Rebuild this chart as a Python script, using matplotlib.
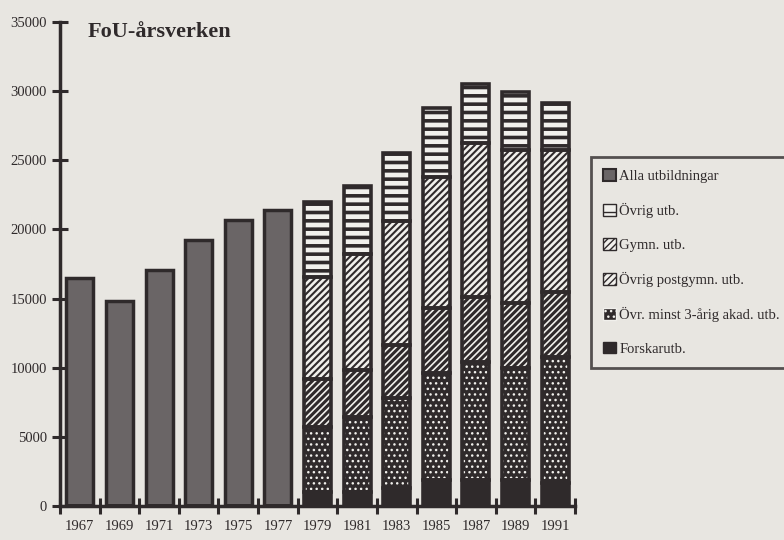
import matplotlib
matplotlib.use("Agg")
import matplotlib.pyplot as plt
import numpy as np
from matplotlib.patches import Patch

years = ["1967", "1969", "1971", "1973", "1975", "1977", "1979",
         "1981", "1983", "1985", "1987", "1989", "1991"]

# totals for the early years (no breakdown)
alla_utb = [16500, 14800, 17100, 19200, 20700, 21400, 0, 0, 0, 0, 0, 0, 0]

# breakdown from 1979 onwards
forskarutb = [0, 0, 0, 0, 0, 0, 1000, 1030, 1280, 1880, 1880, 1880, 1640]
ovr_akad = [0, 0, 0, 0, 0, 0, 4700, 5430, 6510, 7710, 8550, 8080, 9160]
ovr_postgymn = [0, 0, 0, 0, 0, 0, 3500, 3370, 3850, 4700, 4700, 4690, 4700]
gymn_utb = [0, 0, 0, 0, 0, 0, 7350, 8370, 8990, 9520, 11100, 11090, 10240]
ovrig_utb = [0, 0, 0, 0, 0, 0, 5450, 4960, 4870, 4940, 4280, 4170, 3420]

DARK = "#2f2a2b"
PAPER = "#e8e6e1"
LIGHT = "#f1f0ec"

plt.rcParams["font.family"] = ["Liberation Serif", "DejaVu Serif"]

fig = plt.figure(figsize=(7.84, 5.4), dpi=100, facecolor=PAPER)
ax = fig.add_axes([60 / 784, 1 - 506 / 540, 515 / 784, 484 / 540])
ax.set_facecolor(PAPER)

x = np.arange(len(years))
w = 0.68

layers = [
    ("Forskarutb.", forskarutb, DARK, DARK, None, 1.0),
    ("Övr. minst 3-årig akad. utb.", ovr_akad, DARK, LIGHT, "...", 1.0),
    ("Övrig postgymn. utb.", ovr_postgymn, LIGHT, DARK, "/////", 2.2),
    ("Gymn. utb.", gymn_utb, LIGHT, DARK, "/////", 1.5),
    ("Övrig utb.", ovrig_utb, LIGHT, DARK, "--", 2.6),
]

# early years: plain grey bars
ax.bar(x, alla_utb, w, color="#6a6566", edgecolor=DARK, linewidth=2.5, zorder=2)

bottom = np.zeros(len(years))
handles = [Patch(facecolor="#6a6566", edgecolor=DARK, linewidth=1.5, label="Alla utbildningar")]
for name, vals, face, hcol, hatch, hlw in layers:
    vals = np.array(vals, dtype=float)
    with plt.rc_context({"hatch.linewidth": hlw}):
        ax.bar(x, vals, w, bottom=bottom, color=face, edgecolor=hcol,
               hatch=hatch, linewidth=0, zorder=2)
        handles.append(Patch(facecolor=face, edgecolor=hcol, hatch=hatch, label=name))
    ax.bar(x, vals, w, bottom=bottom, fill=False, edgecolor=DARK,
           linewidth=2.6, zorder=3)
    bottom += vals

ax.set_xlim(-0.5, len(years) - 0.5)
ax.set_ylim(0, 35000)

for s in ("top", "right"):
    ax.spines[s].set_visible(False)
for s in ("left", "bottom"):
    ax.spines[s].set_linewidth(2.5)
    ax.spines[s].set_color(DARK)

ax.set_yticks(np.arange(0, 35001, 5000))
ax.set_xticks(np.arange(-0.5, len(years), 1.0))
ax.set_xticklabels([])
ax.set_xticks(x, minor=True)
ax.set_xticklabels(years, minor=True)
ax.tick_params(axis="both", which="major", direction="inout", length=11,
               width=2.2, color=DARK, labelsize=10.5, labelcolor=DARK)
ax.tick_params(axis="y", pad=4)
ax.tick_params(axis="x", which="minor", length=0, pad=10, labelsize=10.5,
               labelcolor=DARK)

fig.text(88 / 784, 1 - 32 / 540, "FoU-årsverken", fontsize=16, fontweight="bold",
         color=DARK, va="center", ha="left")

handles = [handles[0]] + handles[1:][::-1]
leg = fig.legend(handles=handles, loc="upper left",
                 bbox_to_anchor=(591 / 784, 1 - 157 / 540),
                 frameon=True, fancybox=False, fontsize=10.5,
                 handlelength=0.85, handleheight=0.85, handletextpad=0.25,
                 labelspacing=1.36, borderpad=0.85, borderaxespad=0,
                 labelcolor=DARK)
leg.get_frame().set_edgecolor(DARK)
leg.get_frame().set_linewidth(2)
leg.get_frame().set_facecolor(PAPER)

fig.savefig("out.png", dpi=100, facecolor=PAPER)
